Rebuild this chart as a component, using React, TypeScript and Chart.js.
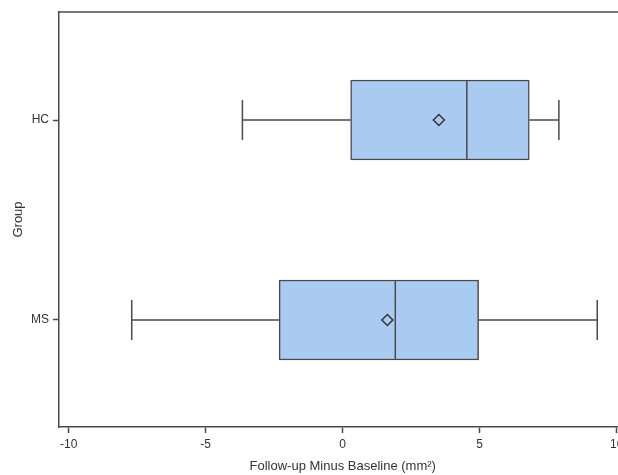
import React, { useEffect, useRef } from "react";
import { Chart, registerables } from "chart.js";

Chart.register(...registerables);

const groups = ["HC", "MS"];
const groupPos = [1, 2];
const whiskerLow = [-3.66, -7.7];
const q1 = [0.29, -2.32];
const median = [4.53, 1.92];
const q3 = [6.81, 4.96];
const whiskerHigh = [7.89, 9.29];
const means = [3.51, 1.63];
const xTicks = [-10, -5, 0, 5, 10];

const BOX_FILL = "#A9CBF1";
const LINE = "#4a4a4a";
const TEXT = "#333333";
const FONT = "'Liberation Sans', Arial, sans-serif";

const boxParts = {
  id: "boxParts",
  afterDatasetDraw(chart: any, args: any) {
    if (args.index !== 0) return;
    const xs = chart.scales.x;
    const ys = chart.scales.y;
    const meta = chart.getDatasetMeta(0);
    const ctx = chart.ctx;
    ctx.save();
    ctx.strokeStyle = LINE;
    ctx.lineWidth = 1.5;
    groups.forEach((_, i) => {
      const yc = ys.getPixelForValue(groupPos[i]);
      const el = meta.data[i];
      const half = el.height / 2;
      const cap = el.height / 4;
      const pLow = xs.getPixelForValue(whiskerLow[i]);
      const pQ1 = xs.getPixelForValue(q1[i]);
      const pMed = xs.getPixelForValue(median[i]);
      const pQ3 = xs.getPixelForValue(q3[i]);
      const pHigh = xs.getPixelForValue(whiskerHigh[i]);
      ctx.beginPath();
      ctx.moveTo(pLow, yc);
      ctx.lineTo(pQ1, yc);
      ctx.moveTo(pQ3, yc);
      ctx.lineTo(pHigh, yc);
      ctx.moveTo(pLow, yc - cap);
      ctx.lineTo(pLow, yc + cap);
      ctx.moveTo(pHigh, yc - cap);
      ctx.lineTo(pHigh, yc + cap);
      ctx.moveTo(pMed, yc - half);
      ctx.lineTo(pMed, yc + half);
      ctx.stroke();
    });
    ctx.restore();
  },
  afterDraw(chart: any) {
    const { ctx, chartArea } = chart;
    ctx.save();
    ctx.strokeStyle = LINE;
    ctx.lineWidth = 1.5;
    ctx.beginPath();
    ctx.moveTo(chartArea.left, chartArea.top);
    ctx.lineTo(chartArea.right, chartArea.top);
    ctx.lineTo(chartArea.right, chartArea.bottom);
    ctx.stroke();
    ctx.restore();
  },
};

export default function App() {
  const ref = useRef<HTMLCanvasElement | null>(null);
  useEffect(() => {
    if (!ref.current) return;
    const chart = new Chart(ref.current, {
      type: "bar",
      data: {
        datasets: [
          {
            type: "bar",
            order: 2,
            data: groups.map((_, i) => ({ y: groupPos[i], x: [q1[i], q3[i]] })) as any,
            backgroundColor: BOX_FILL,
            borderColor: LINE,
            borderWidth: 1.5,
            borderSkipped: false,
            barThickness: 80,
          },
          {
            type: "scatter",
            order: 1,
            data: groups.map((_, i) => ({ x: means[i], y: groupPos[i] })),
            pointStyle: "rectRot",
            pointRadius: 5.5,
            pointBackgroundColor: BOX_FILL,
            pointBorderColor: "#333333",
            pointBorderWidth: 1.5,
          } as any,
        ],
      },
      options: {
        indexAxis: "y",
        animation: false,
        responsive: true,
        maintainAspectRatio: false,
        layout: { padding: { top: 12, left: 0, right: 33.6, bottom: 0 } },
        plugins: { legend: { display: false }, tooltip: { enabled: false } },
        scales: {
          x: {
            type: "linear",
            min: -10.354,
            max: 10.354,
            offset: false,
            afterBuildTicks: (s: any) => {
              s.ticks = xTicks.map((v) => ({ value: v }));
            },
            afterFit: (s: any) => {
              s.height = 48;
            },
            grid: {
              offset: false,
              drawOnChartArea: false,
              drawTicks: true,
              tickLength: 6,
              tickColor: LINE,
              tickWidth: 1.5,
            },
            border: { display: true, color: LINE, width: 1.5 },
            ticks: {
              color: TEXT,
              font: { family: FONT, size: 12 },
              padding: 4,
              maxRotation: 0,
              autoSkip: false,
            },
            title: {
              display: true,
              text: "Follow-up Minus Baseline (mm²)",
              color: TEXT,
              font: { family: FONT, size: 13 },
              padding: { top: 0, bottom: 1 },
            },
          },
          y: {
            type: "linear",
            reverse: true,
            min: 0.46,
            max: 2.535,
            offset: false,
            afterBuildTicks: (s: any) => {
              s.ticks = groupPos.map((v) => ({ value: v }));
            },
            afterFit: (s: any) => {
              s.width = 59;
            },
            grid: {
              offset: false,
              drawOnChartArea: false,
              drawTicks: true,
              tickLength: 6,
              tickColor: LINE,
              tickWidth: 1.5,
            },
            border: { display: true, color: LINE, width: 1.5 },
            ticks: {
              color: TEXT,
              font: { family: FONT, size: 12 },
              padding: 4,
              autoSkip: false,
              callback: (v: any) => groups[groupPos.indexOf(Number(v))] ?? "",
            },
            title: {
              display: true,
              text: "Group",
              color: TEXT,
              font: { family: FONT, size: 13 },
              padding: { top: 11, bottom: 0 },
            },
          },
        },
      },
      plugins: [boxParts],
    });
    return () => chart.destroy();
  }, []);
  return (
    <div
      style={{
        position: "fixed",
        left: 0,
        top: 0,
        width: 618,
        height: 475,
        overflow: "hidden",
        background: "#ffffff",
      }}
    >
      <div style={{ position: "relative", width: 660, height: 475 }}>
        <canvas ref={ref} />
      </div>
    </div>
  );
}
